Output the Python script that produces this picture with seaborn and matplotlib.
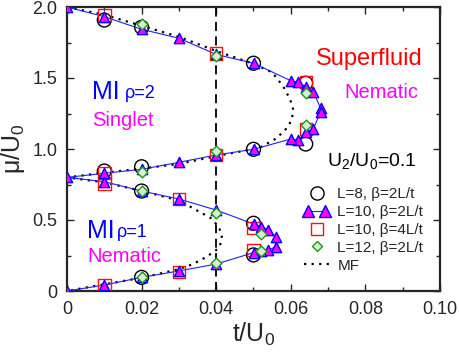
import matplotlib
matplotlib.use("Agg")
import matplotlib.pyplot as plt
import seaborn as sns
import pandas as pd
from matplotlib.lines import Line2D
from matplotlib.legend_handler import HandlerLine2D
from matplotlib.ticker import MultipleLocator

# ---- data ----
tri_t = [0, 0.01, 0.02, 0.03, 0.04, 0.05, 0.060, 0.062, 0.064, 0.066, 0.068,
         0.068, 0.066, 0.064, 0.062, 0.060, 0.05, 0.04, 0.03, 0.02, 0.01, 0,
         0.01, 0.02, 0.03, 0.04, 0.05, 0.052, 0.054, 0.056,
         0.056, 0.054, 0.052, 0.05, 0.04, 0.03, 0.02, 0.01, 0]
tri_mu = [2.0, 1.932, 1.843, 1.780, 1.666, 1.604, 1.481, 1.470, 1.439, 1.404, 1.287,
          1.263, 1.139, 1.122, 1.063, 1.070, 0.998, 0.958, 0.906, 0.857, 0.829, 0.80,
          0.770, 0.704, 0.648, 0.570, 0.472, 0.453, 0.430, 0.382,
          0.312, 0.289, 0.284, 0.270, 0.190, 0.141, 0.096, 0.042, 0.0]

circ_t = [0.01, 0.02, 0.05, 0.064, 0.064, 0.05, 0.02, 0.01, 0.02, 0.05, 0.05, 0.02]
circ_mu = [1.908, 1.857, 1.604, 1.463, 1.035, 0.998, 0.875, 0.845, 0.704, 0.477, 0.254, 0.096]

sq_t = [0.01, 0.04, 0.064, 0.064, 0.04, 0.01, 0.01, 0.03, 0.05, 0.05, 0.03, 0.01]
sq_mu = [1.944, 1.674, 1.470, 1.139, 0.958, 0.829, 0.758, 0.648, 0.442, 0.289, 0.132, 0.042]

dia_t = [0.02, 0.04, 0.064, 0.064, 0.04, 0.02, 0.02, 0.04, 0.052, 0.052, 0.04, 0.02]
dia_mu = [1.880, 1.655, 1.396, 1.169, 0.986, 0.840, 0.704, 0.551, 0.401, 0.284, 0.195, 0.096]

mf_t = [0, 0.01, 0.02, 0.03, 0.04, 0.05, 0.055, 0.058, 0.0598, 0.0607, 0.0602, 0.0584,
        0.0558, 0.0517, 0.045, 0.04, 0.03, 0.02, 0.01, 0,
        0.01, 0.02, 0.03, 0.0357, 0.0388, 0.0408, 0.0415, 0.0415, 0.0406, 0.0374,
        0.0338, 0.0302, 0.0204, 0.01, 0]
mf_mu = [2.0, 1.945, 1.868, 1.79, 1.69, 1.60, 1.54, 1.44, 1.35, 1.275, 1.20, 1.13,
         1.07, 1.01, 0.975, 0.95, 0.895, 0.862, 0.833, 0.8,
         0.765, 0.705, 0.638, 0.555, 0.51, 0.445, 0.39, 0.355, 0.30, 0.24,
         0.19, 0.155, 0.095, 0.047, 0]

legend_labels = ["L=8, \u03b2=2L/t", "L=10, \u03b2=2L/t", "L=10, \u03b2=4L/t",
                 "L=12, \u03b2=2L/t", "MF"]

# ---- style ----
sns.set_style("ticks")
plt.rcParams["font.family"] = ["Liberation Sans", "DejaVu Sans"]
plt.rcParams["mathtext.fontset"] = "custom"
plt.rcParams["mathtext.rm"] = "Liberation Sans"
plt.rcParams["mathtext.it"] = "Liberation Sans:italic"
plt.rcParams["mathtext.default"] = "regular"

fig = plt.figure(figsize=(4.59, 3.54), dpi=100)
ax = fig.add_axes([67/459, 1-291/354, (440-67)/459, (291-7)/354])

ax.axvline(0.04, color="black", lw=1.3, ls=(0, (5, 3)), zorder=1)

sns.lineplot(data=pd.DataFrame({"t": mf_t, "mu": mf_mu}), x="t", y="mu", sort=False,
             estimator=None, ax=ax, color="black", lw=1.6, ls=(0, (1, 2.4)), zorder=2)
sns.lineplot(data=pd.DataFrame({"t": tri_t, "mu": tri_mu}), x="t", y="mu", sort=False,
             estimator=None, ax=ax, color="#2020ff", lw=0.8, zorder=3)

sns.scatterplot(x=circ_t, y=circ_mu, ax=ax, marker="o", s=100, facecolor="none",
                edgecolor="black", linewidth=1.0, zorder=4)
sns.scatterplot(x=sq_t, y=sq_mu, ax=ax, marker="s", s=80, facecolor="none",
                edgecolor="#ff1010", linewidth=1.0, zorder=4)
sns.scatterplot(x=tri_t, y=tri_mu, ax=ax, marker="^", s=55, facecolor="#ff00ff",
                edgecolor="#0000ff", linewidth=1.0, zorder=5)
sns.scatterplot(x=dia_t, y=dia_mu, ax=ax, marker="D", s=30, facecolor="#d8f0d0",
                edgecolor="#1a9a1a", linewidth=1.0, zorder=6)

ax.set_xlim(0, 0.10)
ax.set_ylim(0, 2.0)
ax.xaxis.set_major_locator(MultipleLocator(0.02))
ax.xaxis.set_minor_locator(MultipleLocator(0.01))
ax.yaxis.set_major_locator(MultipleLocator(0.5))
ax.yaxis.set_minor_locator(MultipleLocator(0.25))
ax.set_xticks([0, 0.02, 0.04, 0.06, 0.08, 0.10])
ax.set_xticklabels(["0", "0.02", "0.04", "0.06", "0.08", "0.10"])
ax.set_yticks([0, 0.5, 1.0, 1.5, 2.0])
ax.set_yticklabels(["0", "0.5", "1.0", "1.5", "2.0"])
ax.tick_params(which="both", direction="in", top=True, right=True, labelsize=13,
               width=1.0, pad=7)
ax.tick_params(which="major", length=5)
ax.tick_params(which="minor", length=3)
for s in ax.spines.values():
    s.set_linewidth(1.6)
    s.set_visible(True)

ax.set_xlabel("t/U$_0$", fontsize=18, labelpad=2)
ax.set_ylabel("\u03bc/U$_0$", fontsize=18, labelpad=4)

# annotations
ax.text(0.0066, 1.352, "MI", color="#0000ff", fontsize=18, ha="left", va="baseline")
ax.text(0.0155, 1.360, "\u03c1=2", color="#0000ff", fontsize=13, ha="left", va="baseline")
ax.text(0.0067, 1.162, "Singlet", color="#ff00ff", fontsize=14.5, ha="left", va="baseline")
ax.text(0.0054, 0.371, "MI", color="#0000ff", fontsize=18, ha="left", va="baseline")
ax.text(0.0135, 0.379, "\u03c1=1", color="#0000ff", fontsize=13, ha="left", va="baseline")
ax.text(0.0054, 0.206, "Nematic", color="#ff00ff", fontsize=14.5, ha="left", va="baseline")
ax.text(0.0668, 1.592, "Superfluid", color="#ff0000", fontsize=17, ha="left", va="baseline")
ax.text(0.0743, 1.361, "Nematic", color="#ff00ff", fontsize=14.5, ha="left", va="baseline")
ax.text(0.0697, 0.880, "U$_2$/U$_0$=0.1", color="black", fontsize=14, ha="left", va="baseline")

# legend
h_c = Line2D([], [], ls="none", marker="o", ms=9.5, mfc="none", mec="black", mew=1.0)
h_t = Line2D([], [], ls="-", color="#2020ff", lw=0.8, marker="^", ms=8, mfc="#ff00ff",
             mec="#0000ff", mew=1.0)
h_s = Line2D([], [], ls="none", marker="s", ms=8.5, mfc="none", mec="#ff1010", mew=1.0)
h_d = Line2D([], [], ls="none", marker="D", ms=5.5, mfc="#d8f0d0", mec="#1a9a1a", mew=1.0)
h_m = Line2D([], [], ls=(0, (1, 2.4)), color="black", lw=1.6)
leg = ax.legend([h_c, h_t, h_s, h_d, h_m], legend_labels, loc="upper left",
                bbox_to_anchor=(0.635, 0.365), frameon=False, fontsize=11,
                numpoints=1, handlelength=1.7, handletextpad=0.5,
                labelspacing=0.25, borderpad=0, borderaxespad=0,
                handler_map={h_t: HandlerLine2D(numpoints=2)})

fig.savefig("out.png", dpi=100)
